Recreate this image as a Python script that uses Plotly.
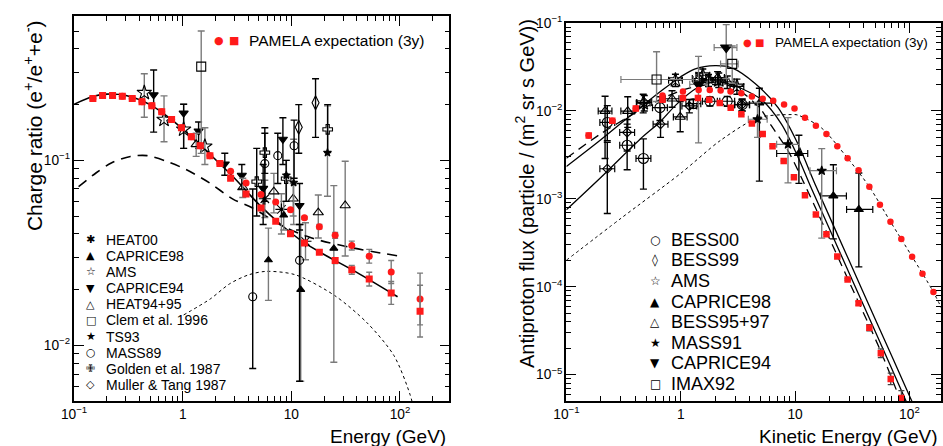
import plotly.graph_objects as go

W, H = 943, 446

# ======================= LEFT PANEL : positron charge ratio =======================
pamL_E  = [0.149, 0.183, 0.226, 0.278, 0.343, 0.422, 0.520, 0.641, 0.790, 0.973, 1.20, 1.45, 1.78,
           2.20, 2.76, 3.83, 5.25, 7.18, 9.82, 13.2, 18.1, 25.3, 36.0, 52.1, 83.0, 153]
pamL_sq = [0.216, 0.224, 0.224, 0.222, 0.216, 0.207, 0.197, 0.183, 0.166, 0.150, 0.134, 0.120, 0.106,
           0.096, 0.080, 0.0658, 0.0552, 0.0469, 0.0401, 0.0357, 0.0319, 0.0287, 0.0256, 0.0228, 0.0192, 0.0153]
pamL_ci = [0.216, 0.224, 0.224, 0.222, 0.216, 0.207, 0.197, 0.183, 0.166, 0.150, 0.134, 0.120, 0.106,
           0.096, 0.0874, 0.0753, 0.0653, 0.0595, 0.0541, 0.0489, 0.0438, 0.0393, 0.0346, 0.0303, 0.0249, 0.0178]
pamL_dec = [0, 0, 0, 0, 0, 0, 0, 0, 0, 0, 0, 0, 0, 0, 0, 0, 0, 0, 0,
            0.008, 0.012, 0.016, 0.024, 0.037, 0.062, 0.14]

solidL_E = [0.1, 0.15, 0.2, 0.3, 0.5, 0.8, 1.2, 2, 3, 5, 8, 13, 20, 40, 95]
solidL_R = [0.201, 0.222, 0.228, 0.224, 0.200, 0.165, 0.134, 0.101, 0.080, 0.058, 0.045, 0.036, 0.031, 0.0248, 0.0183]
dashL_E = [0.11, 0.16, 0.22, 0.33, 0.47, 0.71, 1.07, 1.75, 2.9, 4.4, 8.5, 15.4, 37, 94]
dashL_R = [0.072, 0.0857, 0.0968, 0.105, 0.106, 0.0988, 0.0893, 0.0758, 0.0617, 0.0552, 0.0438, 0.038, 0.0336, 0.0305]
dotL_E = [1.02, 1.79, 2.7, 4.0, 5.8, 10.8, 25, 50, 88, 124, 140]
dotL_R = [0.0146, 0.0178, 0.0215, 0.0240, 0.0251, 0.0241, 0.0186, 0.0132, 0.0088, 0.0054, 0.0040]

heat00_E  = [5.7, 8.1, 13.5]
heat00_R  = [0.062, 0.0543, 0.0365]
heat00_hi = [0.078, 0.066, 0.046]
heat00_lo = [0.049, 0.040, 0.029]

cap98L_E  = [6.15, 8.5, 12.2, 24.6]
cap98L_R  = [0.0289, 0.0505, 0.020, 0.0334]
cap98L_hi = [0.043, 0.060, 0.045, 0.073]
cap98L_lo = [0.0175, 0.042, 0.0064, 0.0081]

amsL_E  = [0.443, 0.673, 1.02, 1.6]
amsL_R  = [0.232, 0.166, 0.147, 0.119]
amsL_hi = [0.294, 0.223, 0.201, 0.150]
amsL_lo = [0.171, 0.126, 0.116, 0.095]

cap94L_E  = [0.54, 1.02, 1.40, 2.44, 3.50, 5.5, 8.36, 11.9]
cap94L_R  = [0.226, 0.180, 0.144, 0.0956, 0.083, 0.0705, 0.130, 0.057]
cap94L_hi = [0.308, 0.201, 0.161, 0.1093, 0.095, 0.095, 0.170, 0.075]
cap94L_lo = [0.142, 0.116, 0.116, 0.0830, 0.070, 0.045, 0.095, 0.042]

heat9495_E  = [1.33, 3.57, 6.9, 10.4, 17.7, 31.3]
heat9495_R  = [0.122, 0.0713, 0.0677, 0.062, 0.0522, 0.057]
heat9495_hi = [0.140, 0.080, 0.085, 0.075, 0.065, 0.0988]
heat9495_lo = [0.105, 0.063, 0.052, 0.050, 0.038, 0.0304]

clem_E, clem_R, clem_hi, clem_lo = [1.48], [0.321], [0.50], [0.109]

ts93_E  = [9.0, 10.5, 21.5]
ts93_R  = [0.083, 0.0758, 0.110]
ts93_hi = [0.10, 0.13, 0.197]
ts93_lo = [0.06, 0.045, 0.064]

mass89_E  = [4.41, 5.7, 7.5, 10.6, 11.9]
mass89_R  = [0.0183, 0.096, 0.106, 0.120, 0.0288]
mass89_hi = [0.07, 0.15, 0.14, 0.165, 0.045]
mass89_lo = [0.0075, 0.06, 0.075, 0.08, 0.0064]

golden_E  = [4.8, 5.7, 8.96, 21.6]
golden_R  = [0.0767, 0.11, 0.0796, 0.147]
golden_hi = [0.116, 0.14, 0.10, 0.20]
golden_lo = [0.05, 0.085, 0.06, 0.11]

muller_E  = [11.7, 16.7]
muller_R  = [0.151, 0.205]
muller_hi = [0.20, 0.276]
muller_lo = [0.1093, 0.133]

legendL_labels = ["HEAT00", "CAPRICE98", "AMS", "CAPRICE94", "HEAT94+95", "Clem et al. 1996",
                  "TS93", "MASS89", "Golden et al. 1987", "Muller & Tang 1987"]
legendL_glyphs = ["✱", "▲", "☆", "▼", "△", "□", "★", "○", "✙", "◇"]

# ======================= RIGHT PANEL : antiproton flux =======================
pamR_E  = [0.157, 0.252, 0.405, 0.693, 1.045, 1.415, 1.774, 2.198, 2.735, 3.39, 4.19, 5.21, 6.35, 7.95,
           9.77, 12.2, 15.2, 18.8, 23.4, 28.8, 35.9, 44.6, 56.2, 68.6, 85.0]
pamR_sq = [0.00526, 0.00773, 0.01067, 0.01343, 0.01403, 0.01403, 0.01343, 0.01233, 0.01086, 0.00915,
           0.00721, 0.00548, 0.00397, 0.00270, 0.00176, 0.00110, 0.000665, 0.000395, 0.000221, 0.000121,
           6.47e-5, 3.41e-5, 1.75e-5, 8.93e-6, 5.4e-6]
pamR_dec = [0, 0, 0, 0, 0, 0, 0, 0, 0, 0, 0, 0, 0, 0, 0, 0, 0, 0, 0, 0.01, 0.02, 0.035, 0.05, 0.065, 0.085]
pamRc_E = [0.157, 0.252, 0.405, 0.693, 1.045, 1.435, 1.795, 2.233, 2.723, 3.39, 4.19, 5.21, 6.44, 8.01,
           9.88, 12.2, 15.2, 18.8, 23.4, 28.8, 35.9, 44.6, 55.2, 68.2, 84.9, 105.5, 130, 162]
pamRc_F = [0.00526, 0.00773, 0.01067, 0.0150, 0.01663, 0.01734, 0.01734, 0.01706, 0.01663, 0.01592,
           0.01465, 0.01378, 0.01309, 0.01181, 0.01066, 0.00839, 0.00679, 0.00548, 0.00397, 0.00289,
           0.00211, 0.00137, 0.000859, 0.000547, 0.000348, 0.000219, 0.000140, 8.73e-5]

solidA_E = [0.1, 0.2, 0.387, 0.7, 1.0, 1.32, 2.0, 2.83, 4.47, 7.1, 10.6, 15.2, 30, 50, 107, 150]
solidA_F = [0.00233, 0.0047, 0.0095, 0.0175, 0.0245, 0.0300, 0.0328, 0.0308, 0.0206, 0.0109, 0.0042,
            0.0014, 1.92e-4, 4.33e-5, 4.7e-6, 1.7e-6]
solidB_E = [0.1, 0.2, 0.443, 0.658, 0.914, 1.36, 1.9, 2.5, 3.4, 5.1, 7.6, 10.6, 13.6, 30, 50, 94, 130]
solidB_F = [0.00075, 0.00175, 0.0048, 0.0075, 0.0118, 0.0180, 0.0212, 0.0208, 0.0180, 0.0134, 0.0071,
            0.0030, 0.0014, 1.39e-4, 3.13e-5, 4.9e-6, 1.9e-6]
dashR_E = [0.1, 0.2, 0.4, 0.7, 1.0, 1.5, 2.0, 2.8, 3.4, 5.0, 6.2, 8.7, 12, 28.5, 55, 82, 120]
dashR_F = [0.0029, 0.0055, 0.0095, 0.0140, 0.0170, 0.0195, 0.0200, 0.0190, 0.0165, 0.0105, 0.0068,
           0.0035, 0.0015, 1.28e-4, 1.95e-5, 5.4e-6, 1.5e-6]
dotR_E = [0.1, 0.3, 1.0, 2.23, 4.79, 9.25, 10.5, 16.8, 28.8, 44.6, 68.2, 105.5, 162, 200]
dotR_F = [2.0e-4, 6.0e-4, 0.00195, 0.00463, 0.0084, 0.0091, 0.0090, 0.0065, 0.0029, 0.00137,
          0.00055, 0.00022, 8.7e-5, 5.0e-5]

bess00_E  = [0.228, 0.34, 0.472, 0.658, 1.29, 1.80, 2.55, 3.45]
bess00_F  = [0.0074, 0.00407, 0.00288, 0.0109, 0.0121, 0.0129, 0.0129, 0.0118]
bess00_hi = [0.0115, 0.00708, 0.00481, 0.0145, 0.0135, 0.0144, 0.0146, 0.0137]
bess00_lo = [0.0046, 0.00214, 0.00129, 0.0078, 0.0107, 0.0114, 0.0113, 0.0100]

bess99_E  = [0.228, 0.34, 0.48, 0.666, 1.19, 3.43]
bess99_F  = [0.0022, 0.0057, 0.0125, 0.00708, 0.0114, 0.0118]
bess99_hi = [0.0044, 0.0080, 0.0150, 0.0109, 0.0135, 0.0135]
bess99_lo = [0.00068, 0.0035, 0.0100, 0.0050, 0.0095, 0.0100]

amsR_E  = [0.47, 0.899, 1.56, 2.15, 3.1]
amsR_F  = [0.0123, 0.0224, 0.0255, 0.0224, 0.019]
amsR_hi = [0.0155, 0.0262, 0.030, 0.027, 0.023]
amsR_lo = [0.0095, 0.0190, 0.021, 0.0185, 0.0155]

cap98R_E  = [4.87, 10.8, 21.6, 36.1]
cap98R_F  = [0.0123, 0.00328, 0.00108, 0.000757]
cap98R_hi = [0.0181, 0.0053, 0.00244, 0.00197]
cap98R_lo = [0.00159, 0.0015, 0.00035, 0.000168]
cap98R_Elo = [3.36, 6.9, 16.8, 28.2]
cap98R_Ehi = [6.23, 12.9, 28.1, 47.8]

bess9597_E  = [0.218, 0.344, 0.84, 0.99, 1.45, 1.75, 2.1, 2.55]
bess9597_F  = [0.00997, 0.00997, 0.01377, 0.00855, 0.0234, 0.0226, 0.0240, 0.0215]
bess9597_hi = [0.0147, 0.0145, 0.0170, 0.0128, 0.027, 0.026, 0.028, 0.025]
bess9597_lo = [0.00288, 0.0065, 0.0110, 0.0058, 0.020, 0.019, 0.020, 0.018]

mass91_E   = [4.69, 8.67, 17.1]
mass91_F   = [0.00805, 0.00417, 0.00209]
mass91_hi  = [0.0125, 0.0084, 0.00373]
mass91_lo  = [0.0050, 0.00152, 0.000357]
mass91_Elo = [3.9, 6.9, 13.5]
mass91_Ehi = [5.7, 10.9, 23.0]

cap94R_E   = [1.43, 2.5]
cap94R_F   = [0.0201, 0.0527]
cap94R_hi  = [0.0418, 0.096]
cap94R_lo  = [0.00433, 0.0234]
cap94R_Elo = [1.2, 1.96]
cap94R_Ehi = [1.7, 3.1]

imax_E   = [0.615, 2.82]
imax_F   = [0.0228, 0.0343]
imax_hi  = [0.0471, 0.0549]
imax_lo  = [0.0128, 0.0206]
imax_Elo = [0.30, 2.23]
imax_Ehi = [1.29, 3.18]

legendR_labels = ["BESS00", "BESS99", "AMS", "CAPRICE98", "BESS95+97", "MASS91", "CAPRICE94", "IMAX92"]
legendR_glyphs = ["○", "◊", "☆", "▲", "△", "★", "▼", "□"]

# ======================= helpers =======================
NaN = float("nan")
GREY = "#7a7a7a"
RED = "#ff1a1a"


def dec_err(vals, dec):
    up, dn = [], []
    for v, d in zip(vals, dec):
        if d > 0:
            up.append(v * (10 ** d - 1)); dn.append(v * (1 - 10 ** -d))
        else:
            up.append(NaN); dn.append(NaN)
    return up, dn


def bounds_err(vals, hi, lo):
    return [h - v for v, h in zip(vals, hi)], [v - l for v, l in zip(vals, lo)]


def xdec(E, d):
    return [e * (10 ** d - 1) for e in E], [e * (1 - 10 ** -d) for e in E]


fig = go.Figure()


def add_curve(E, V, dash, width, xa, ya):
    fig.add_trace(go.Scatter(x=E, y=V, mode="lines", xaxis=xa, yaxis=ya, hoverinfo="skip",
                             line=dict(color="black", width=width, dash=dash, shape="spline", smoothing=0.8)))


def add_exp(E, V, hi, lo, symbol, size, barcol, xa, ya, Elo=None, Ehi=None, xd=None, lw=1.1):
    up, dn = bounds_err(V, hi, lo)
    ex = None
    if Elo is not None:
        ex = dict(type="data", symmetric=False, array=[h - e for e, h in zip(E, Ehi)],
                  arrayminus=[e - l for e, l in zip(E, Elo)], color=barcol, thickness=1.2, width=3.5)
    elif xd is not None:
        a, b = xdec(E, xd)
        ex = dict(type="data", symmetric=False, array=a, arrayminus=b, color=barcol, thickness=1.2, width=3.5)
    fig.add_trace(go.Scatter(
        x=E, y=V, mode="markers", xaxis=xa, yaxis=ya,
        marker=dict(symbol=symbol, size=size, color="black", line=dict(color="black", width=lw)),
        error_y=dict(type="data", symmetric=False, array=up, arrayminus=dn, color=barcol, thickness=1.4, width=3.5),
        error_x=ex if ex is not None else dict(visible=False)))


# ---------------- left curves ----------------
add_curve(solidL_E, solidL_R, "solid", 1.6, "x", "y")
add_curve(dashL_E, dashL_R, "10px,7px", 1.6, "x", "y")
add_curve(dotL_E, dotL_R, "dot", 1.0, "x", "y")

# ---------------- left experiments ----------------
add_exp(heat00_E, heat00_R, heat00_hi, heat00_lo, "asterisk-open", 10, GREY, "x", "y")
add_exp(cap98L_E, cap98L_R, cap98L_hi, cap98L_lo, "triangle-up", 7, GREY, "x", "y")
add_exp(amsL_E, amsL_R, amsL_hi, amsL_lo, "star-open", 11, GREY, "x", "y")
add_exp(cap94L_E, cap94L_R, cap94L_hi, cap94L_lo, "triangle-down", 8, "black", "x", "y")
add_exp(heat9495_E, heat9495_R, heat9495_hi, heat9495_lo, "triangle-up-open", 9, GREY, "x", "y")
add_exp(clem_E, clem_R, clem_hi, clem_lo, "square-open", 9, GREY, "x", "y")
add_exp(ts93_E, ts93_R, ts93_hi, ts93_lo, "star", 6, GREY, "x", "y")
add_exp(mass89_E, mass89_R, mass89_hi, mass89_lo, "circle-open", 8, "black", "x", "y")
add_exp(golden_E, golden_R, golden_hi, golden_lo, "cross-open", 8, "black", "x", "y")
add_exp(muller_E, muller_R, muller_hi, muller_lo, "diamond-tall-open", 10, "black", "x", "y")

# ---------------- left PAMELA ----------------
u, d = dec_err(pamL_ci, pamL_dec)
fig.add_trace(go.Scatter(x=pamL_E, y=pamL_ci, mode="markers", xaxis="x", yaxis="y",
                         marker=dict(symbol="circle", size=7, color=RED),
                         error_y=dict(type="data", symmetric=False, array=u, arrayminus=d, color=GREY,
                                      thickness=1.4, width=3)))
u, d = dec_err(pamL_sq, pamL_dec)
fig.add_trace(go.Scatter(x=pamL_E, y=pamL_sq, mode="markers", xaxis="x", yaxis="y",
                         marker=dict(symbol="square", size=7, color=RED),
                         error_y=dict(type="data", symmetric=False, array=u, arrayminus=d, color=GREY,
                                      thickness=1.4, width=3)))

# ---------------- right curves ----------------
add_curve(solidA_E, solidA_F, "solid", 1.3, "x2", "y2")
add_curve(solidB_E, solidB_F, "solid", 1.3, "x2", "y2")
add_curve(dashR_E, dashR_F, "9px,6px", 1.3, "x2", "y2")
add_curve(dotR_E, dotR_F, "dot", 1.0, "x2", "y2")

# ---------------- right experiments ----------------
add_exp(bess00_E, bess00_F, bess00_hi, bess00_lo, "circle-open", 10, "black", "x2", "y2", xd=0.065)
add_exp(bess99_E, bess99_F, bess99_hi, bess99_lo, "diamond-open", 7, "black", "x2", "y2", xd=0.065)
add_exp(amsR_E, amsR_F, amsR_hi, amsR_lo, "star-open", 11, "black", "x2", "y2", xd=0.06)
add_exp(cap98R_E, cap98R_F, cap98R_hi, cap98R_lo, "triangle-up", 8, "black", "x2", "y2", Elo=cap98R_Elo, Ehi=cap98R_Ehi)
add_exp(bess9597_E, bess9597_F, bess9597_hi, bess9597_lo, "triangle-up-open", 9, "black", "x2", "y2", xd=0.06)
add_exp(mass91_E, mass91_F, mass91_hi, mass91_lo, "star", 7, GREY, "x2", "y2", Elo=mass91_Elo, Ehi=mass91_Ehi)
add_exp(cap94R_E, cap94R_F, cap94R_hi, cap94R_lo, "triangle-down", 10, GREY, "x2", "y2", Elo=cap94R_Elo, Ehi=cap94R_Ehi)
add_exp(imax_E, imax_F, imax_hi, imax_lo, "square-open", 9, GREY, "x2", "y2", Elo=imax_Elo, Ehi=imax_Ehi)

# ---------------- right PAMELA ----------------
fig.add_trace(go.Scatter(x=pamRc_E, y=pamRc_F, mode="markers", xaxis="x2", yaxis="y2",
                         marker=dict(symbol="circle", size=6.5, color=RED)))
u, d = dec_err(pamR_sq, pamR_dec)
fig.add_trace(go.Scatter(x=pamR_E, y=pamR_sq, mode="markers", xaxis="x2", yaxis="y2",
                         marker=dict(symbol="square", size=6.5, color=RED),
                         error_y=dict(type="data", symmetric=False, array=u, arrayminus=d, color="#444",
                                      thickness=1.3, width=3)))

# ======================= axes =======================
def px_x(p):
    return p / W


def px_y(p):
    return 1 - p / H


TICKFONT = dict(family="Liberation Sans, Arial, sans-serif", size=11, color="black")
common = dict(type="log", dtick=1, exponentformat="power", showgrid=False, zeroline=False,
              showline=True, linecolor="black", linewidth=1.6, mirror="ticks",
              ticks="inside", ticklen=10, tickwidth=1.3, tickcolor="black", tickfont=TICKFONT,
              minor=dict(ticks="inside", ticklen=5, tickwidth=1, tickcolor="black", dtick="D1", showgrid=False))

fig.update_layout(
    width=W, height=H, margin=dict(l=0, r=0, t=0, b=0),
    paper_bgcolor="white", plot_bgcolor="white", showlegend=False,
    xaxis=dict(common, range=[-1, 2.455], domain=[px_x(62), px_x(443)], anchor="y"),
    yaxis=dict(common, range=[-2.301, -0.2218], domain=[px_y(400), px_y(6.5)], anchor="x"),
    xaxis2=dict(common, range=[-1, 2.276], domain=[px_x(561.7), px_x(942)], anchor="y2"),
    yaxis2=dict(common, range=[-5.301, -0.999], domain=[px_y(400), px_y(13.3)], anchor="x2"),
)

# ======================= texts (titles, legends) =======================
TXT = "Liberation Sans, Arial, sans-serif"
SYM = "DejaVu Sans"
ann = []


def text(x, y, s, size, xanchor="left", angle=0, family=TXT, color="black"):
    ann.append(dict(x=px_x(x), y=px_y(y), xref="paper", yref="paper", text=s, showarrow=False,
                    xanchor=xanchor, yanchor="middle", textangle=angle,
                    font=dict(family=family, size=size, color=color)))


text(441.5, 436, "Energy (GeV)", 19, xanchor="right")
text(940, 436, "Kinetic Energy (GeV)", 19, xanchor="right")
text(21, 118, "Charge ratio (e<sup>+</sup>/e<sup>+</sup>+e<sup>-</sup>)", 21, xanchor="center", angle=-90)
text(520, 188, "Antiproton flux (particle / (m<sup>2</sup> sr s GeV))", 20, xanchor="center", angle=-90)

# PAMELA legends
text(209.5, 31.3, "●", 11, xanchor="center", family=SYM, color=RED)
text(224, 31.3, "■", 11, xanchor="center", family=SYM, color=RED)
text(238, 31.3, "PAMELA expectation (3y)", 15.5)
text(746, 33.3, "●", 10, xanchor="center", family=SYM, color=RED)
text(757.3, 33.3, "■", 10, xanchor="center", family=SYM, color=RED)
text(771.5, 33.3, "PAMELA expectation (3y)", 13.5)

for i, (g, lab) in enumerate(zip(legendL_glyphs, legendL_labels)):
    y = 235 + 16.5 * i
    text(78.7, y, g, 11, xanchor="center", family=SYM)
    text(92.5, y, lab, 14)

for i, (g, lab) in enumerate(zip(legendR_glyphs, legendR_labels)):
    y = 235 + 21.1 * i
    text(651.7, y, g, 12, xanchor="center", family=SYM)
    text(665.5, y, lab, 18)

fig.update_layout(annotations=ann)
fig.write_html("out.html", config={"displayModeBar": False},
               post_script="document.body.style.margin='0';")
